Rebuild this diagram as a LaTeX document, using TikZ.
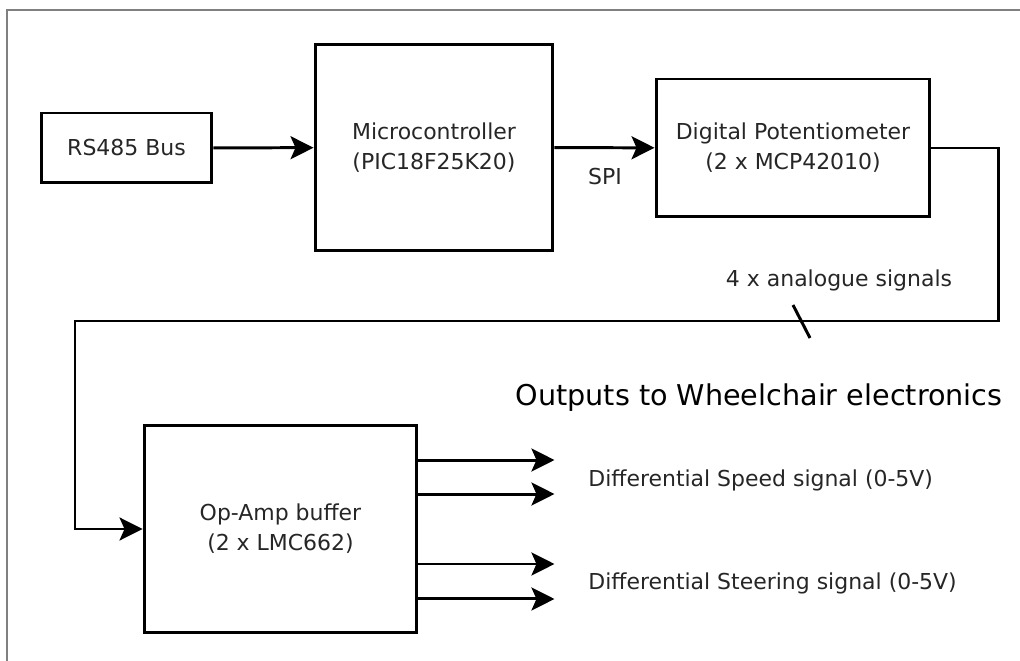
\documentclass[tikz,border=0pt]{standalone}
\usepackage{fontspec}
\setmainfont{DejaVu Sans}
\usetikzlibrary{arrows.meta}
\tikzset{
  block/.style={draw, line width=1.7pt, inner sep=0pt, align=center,
    font=\fontsize{12.5}{17}\selectfont, text=black!85},
  sig/.style={line width=1.7pt, -{Stealth[length=0.46cm,width=0.46cm,inset=0.1cm]}},
  lbl/.style={font=\fontsize{12.5}{15}\selectfont, text=black!85, inner sep=0pt}
}
\begin{document}
\begin{tikzpicture}[x=0.02cm,y=-0.02cm]
\useasboundingbox (0,0) rectangle (1020,661);
\draw[gray, line width=0.8pt] (7,661) -- (7,10) -- (1020,10);
\node[block, minimum width=3.42cm, minimum height=1.4cm] (bus) at (126.5,148) {RS485 Bus};
\node[block, minimum width=4.76cm, minimum height=4.14cm] (mcu) at (434,147.5) {Microcontroller\\(PIC18F25K20)};
\node[block, minimum width=5.48cm, minimum height=2.76cm] (pot) at (793,148) {Digital Potentiometer\\(2 x MCP42010)};
\node[block, minimum width=5.46cm, minimum height=4.16cm] (amp) at (280.5,529) {Op-Amp buffer\\(2 x LMC662)};
\node[lbl] (spi) at (605,177) {SPI};
\node[lbl] (ana) at (839,280) {4 x analogue signals};
\node[font=\fontsize{16.3}{20}\selectfont, inner sep=0pt] (out) at (759,398) {Outputs to Wheelchair electronics};
\node[lbl, anchor=west] (spd) at (588,480) {Differential Speed signal (0-5V)};
\node[lbl, anchor=west] (str) at (588,583) {Differential Steering signal (0-5V)};
\coordinate (rt) at (998,321);
\coordinate (lf) at (75,321);
\draw[sig] (bus) -- (mcu);
\draw[sig] (mcu) -- (pot);
\draw[sig] (pot.east) -| (rt) -- (lf) |- (amp.west);
\draw[line width=1.7pt] (793,305) -- (810,338);
\foreach \dy in {1.38,0.7,-0.7,-1.4}
  \draw[sig] ([yshift=\dy cm]amp.east) -- ++(136,0);
\end{tikzpicture}
\end{document}
